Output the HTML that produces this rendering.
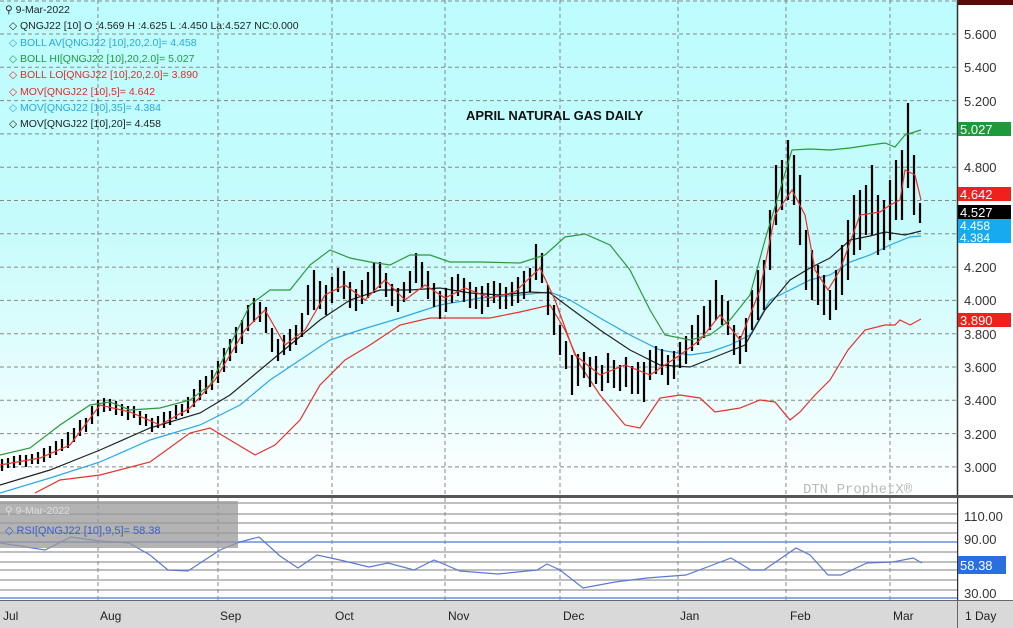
<!DOCTYPE html>
<html><head><meta charset="utf-8"><style>
html,body{margin:0;padding:0;width:1013px;height:628px;overflow:hidden;background:#fff}
svg{display:block}
</style></head><body>
<svg width="1013" height="628" xmlns="http://www.w3.org/2000/svg" font-family="Liberation Sans, sans-serif">
<defs><linearGradient id="bg" x1="0" y1="0" x2="0" y2="1">
<stop offset="0" stop-color="#bdfdff"/><stop offset="0.45" stop-color="#c6fbfb"/><stop offset="1" stop-color="#ffffff"/></linearGradient></defs>
<rect x="0" y="0" width="957" height="497" fill="url(#bg)"/>
<rect x="957" y="0" width="56" height="5" fill="#5a0a0a"/>
<g stroke="#888" stroke-dasharray="4,3" stroke-width="1">
<line x1="0" y1="1" x2="957" y2="1"/><line x1="0" y1="34" x2="957" y2="34"/><line x1="0" y1="67.3" x2="957" y2="67.3"/><line x1="0" y1="100.6" x2="957" y2="100.6"/><line x1="0" y1="133.9" x2="957" y2="133.9"/><line x1="0" y1="167.2" x2="957" y2="167.2"/><line x1="0" y1="200.5" x2="957" y2="200.5"/><line x1="0" y1="233.8" x2="957" y2="233.8"/><line x1="0" y1="267.1" x2="957" y2="267.1"/><line x1="0" y1="300.4" x2="957" y2="300.4"/><line x1="0" y1="333.7" x2="957" y2="333.7"/><line x1="0" y1="367" x2="957" y2="367"/><line x1="0" y1="400.3" x2="957" y2="400.3"/><line x1="0" y1="433.6" x2="957" y2="433.6"/><line x1="0" y1="466.9" x2="957" y2="466.9"/>
<line x1="98" y1="0" x2="98" y2="600"/><line x1="218" y1="0" x2="218" y2="600"/><line x1="332" y1="0" x2="332" y2="600"/><line x1="445" y1="0" x2="445" y2="600"/><line x1="560" y1="0" x2="560" y2="600"/><line x1="678" y1="0" x2="678" y2="600"/><line x1="786" y1="0" x2="786" y2="600"/><line x1="890" y1="0" x2="890" y2="600"/>
</g>
<g fill="none" stroke-width="1.2">
<polyline stroke="#e8302a" points="35,493 60,480 100,475 150,462 190,433 210,428 230,440 255,455 275,445 300,420 320,385 345,360 370,345 400,325 430,318 460,318 490,318 520,312 550,305 565,330 580,365 600,395 625,425 640,428 660,398 680,395 700,398 715,412 740,408 760,400 775,402 790,420 800,412 815,395 830,380 848,350 865,330 885,325 895,325 900,320 910,325 921,319"/>
<polyline stroke="#2aa8e6" points="0,493 50,478 100,462 150,440 200,425 240,405 270,380 300,360 330,340 360,330 400,318 440,305 480,298 520,295 550,292 570,300 600,318 630,335 660,350 690,355 710,352 730,345 750,335 770,300 790,290 810,280 830,275 850,262 870,255 890,245 910,237 921,236"/>
<polyline stroke="#222" points="0,485 50,470 100,450 150,428 200,413 230,395 260,370 290,345 320,320 350,300 380,290 410,290 440,288 470,293 500,295 530,292 550,293 570,308 600,330 630,350 660,365 690,367 720,355 745,345 765,310 790,280 810,268 830,258 850,240 870,236 885,232 905,235 921,231"/>
</g>
<path stroke="#000" stroke-width="2.2" fill="none" d="M2,459v12M8,458v10M14,456v12M20,455v10M26,455v12M32,454v10M38,452v12M44,448v14M50,446v12M56,441v14M62,439v12M68,432v16M74,428v14M80,420v16M86,418v14M92,406v18M98,400v16M104,398v14M110,399v12M116,401v14M122,404v12M128,406v14M134,406v12M140,411v14M146,414v12M152,418v14M158,416v12M164,412v16M170,411v14M176,405v14M182,404v12M188,397v16M194,389v18M200,380v20M206,376v18M212,370v20M218,361v22M224,348v24M230,339v22M236,327v26M242,320v24M248,305v26M254,298v24M260,302v20M266,307v26M272,328v24M278,339v22M284,335v20M290,329v22M296,325v20M302,313v24M308,285v30M314,270v40M320,281v28M326,285v30M332,277v26M338,268v24M344,271v28M350,282v26M356,289v22M362,280v24M368,272v26M374,263v30M380,262v26M386,273v24M392,284v22M398,288v24M404,282v20M410,271v22M416,253v30M422,262v26M428,271v28M434,283v24M440,291v28M446,288v24M452,277v26M458,274v22M464,278v24M470,282v26M476,287v22M482,286v28M488,283v24M494,281v22M500,283v26M506,287v22M512,282v24M518,277v26M524,271v28M530,268v24M536,244v36M542,253v30M548,285v30M554,305v30M560,325v30M566,341v28M572,355v40M578,354v32M584,352v26M590,357v30M596,356v28M602,365v26M608,353v30M614,360v28M620,365v26M626,357v30M632,366v28M638,362v32M644,362v40M650,350v30M656,346v28M662,349v26M668,355v30M674,351v28M680,342v26M686,336v28M692,325v26M698,315v30M704,306v32M710,300v30M716,280v40M722,295v30M728,301v34M734,325v30M740,336v28M746,318v34M752,290v40M758,270v50M764,260v50M770,210v60M776,165v60M782,160v50M788,140v60M794,155v50M800,175v70M806,230v60M812,250v50M818,265v40M824,275v40M830,290v30M836,270v40M842,245v50M848,220v60M854,195v60M860,190v60M866,185v50M872,165v70M878,195v60M884,200v50M890,180v60M896,160v60M902,150v70M908,103v85M914,155v60M920,203v20"/>
<g fill="none" stroke-width="1.2">
<polyline stroke="#2a9a3a" points="0,455 30,448 60,425 90,405 110,402 130,410 160,408 190,400 210,385 230,345 250,305 270,290 290,290 310,265 330,250 350,258 370,262 390,265 410,255 430,255 450,262 480,262 520,263 545,255 565,237 585,234 610,245 630,270 650,310 665,335 690,340 710,335 730,320 750,295 765,240 780,190 792,150 810,149 830,150 850,148 870,145 885,143 895,147 905,135 921,130"/>
<polyline stroke="#e8302a" points="0,465 40,458 70,445 100,405 130,412 160,425 190,408 215,380 245,330 265,310 285,345 305,330 325,295 345,285 365,300 385,280 405,300 425,285 445,298 465,288 490,298 515,292 540,268 555,300 575,355 600,375 625,365 650,375 680,355 700,340 720,315 740,340 760,290 775,215 792,190 805,215 815,270 828,290 840,270 860,215 880,212 890,205 900,200 905,170 915,175 921,200"/>
</g>
<text x="466" y="120" font-size="13" font-weight="bold" fill="#111">APRIL NATURAL GAS DAILY</text>
<text x="803" y="493" font-size="14" fill="#b8b8b8" font-family="Liberation Mono, monospace">DTN ProphetX®</text>
<g font-size="10.5">
<text x="5" y="13" fill="#222">⚲ 9-Mar-2022</text>
<text x="9" y="29" fill="#222">◇ QNGJ22 [10] O :4.569 H :4.625 L :4.450 La:4.527 NC:0.000</text>
<text x="9" y="46" fill="#29a8e0">◇ BOLL AV[QNGJ22 [10],20,2.0]= 4.458</text>
<text x="9" y="62" fill="#1f9a3a">◇ BOLL HI[QNGJ22 [10],20,2.0]= 5.027</text>
<text x="9" y="78" fill="#e02a2a">◇ BOLL LO[QNGJ22 [10],20,2.0]= 3.890</text>
<text x="9" y="95" fill="#e02a2a">◇ MOV[QNGJ22 [10],5]= 4.642</text>
<text x="9" y="111" fill="#29a8e0">◇ MOV[QNGJ22 [10],35]= 4.384</text>
<text x="9" y="127" fill="#222">◇ MOV[QNGJ22 [10],20]= 4.458</text>
</g>
<line x1="957.5" y1="0" x2="957.5" y2="600" stroke="#333" stroke-width="1.5"/>
<g font-size="13" fill="#333" stroke="none">
<text x="964" y="39">5.600</text><text x="964" y="72">5.400</text><text x="964" y="106">5.200</text><text x="964" y="172">4.800</text><text x="964" y="272">4.200</text><text x="964" y="305">4.000</text><text x="964" y="372">3.600</text><text x="964" y="405">3.400</text><text x="964" y="439">3.200</text><text x="964" y="472">3.000</text><text x="964" y="339">3.800</text>
</g>
<rect x="958" y="122" width="53" height="14" fill="#1e9a3a"/><text x="960" y="134" font-size="13" fill="#fff">5.027</text>
<rect x="958" y="187" width="53" height="14" fill="#f0201c"/><text x="960" y="199" font-size="13" fill="#fff">4.642</text>
<rect x="958" y="205" width="53" height="14" fill="#000"/><text x="960" y="217" font-size="13" fill="#fff">4.527</text>
<rect x="958" y="219" width="53" height="24" fill="#18aaee"/><text x="960" y="230" font-size="12" fill="#fff">4.458</text><text x="960" y="242" font-size="12" fill="#fff">4.384</text>
<rect x="958" y="313" width="53" height="14" fill="#f0201c"/><text x="960" y="325" font-size="13" fill="#fff">3.890</text>
<rect x="0" y="495" width="1013" height="3" fill="#555"/>
<rect x="0" y="498" width="957" height="102" fill="#fff"/>
<g stroke="#999" stroke-width="1.3">
<line x1="0" y1="503" x2="957" y2="503"/><line x1="0" y1="514" x2="957" y2="514"/><line x1="0" y1="523" x2="957" y2="523"/><line x1="0" y1="533" x2="957" y2="533"/><line x1="0" y1="552" x2="957" y2="552"/><line x1="0" y1="562" x2="957" y2="562"/><line x1="0" y1="570" x2="957" y2="570"/><line x1="0" y1="580" x2="957" y2="580"/><line x1="0" y1="590" x2="957" y2="590"/>
</g>
<line x1="0" y1="542" x2="957" y2="542" stroke="#8fa8e8" stroke-width="2"/>
<line x1="0" y1="598" x2="957" y2="598" stroke="#8fa8e8" stroke-width="2"/>
<g stroke="#888" stroke-dasharray="4,3">
<line x1="98" y1="498" x2="98" y2="600"/><line x1="218" y1="498" x2="218" y2="600"/><line x1="332" y1="498" x2="332" y2="600"/><line x1="445" y1="498" x2="445" y2="600"/><line x1="560" y1="498" x2="560" y2="600"/><line x1="678" y1="498" x2="678" y2="600"/><line x1="786" y1="498" x2="786" y2="600"/><line x1="890" y1="498" x2="890" y2="600"/>
</g>
<polyline fill="none" stroke="#5a78d8" stroke-width="1.2" points="0,543 20,546 45,550 71,537 100,541 129,543 150,555 168,570 188,571 220,550 240,542 259,537 280,556 298,568 317,555 340,560 369,567 388,563 414,570 434,560 460,571 498,574 537,570 547,564 560,570 583,588 615,582 647,578 686,575 710,566 731,558 751,570 764,570 796,548 810,555 828,575 841,575 867,563 893,562 913,558 922,563"/>
<rect x="0" y="501" width="238" height="47" fill="#9a9a9a" opacity="0.75"/>
<text x="5" y="514" font-size="10.5" fill="#ddd">⚲ 9-Mar-2022</text>
<text x="5" y="534" font-size="11" fill="#3a5ecf">◇ RSI[QNGJ22 [10],9,5]= 58.38</text>
<g font-size="13" fill="#333"><text x="964" y="521">110.00</text><text x="964" y="544">90.00</text><text x="964" y="565">70.00</text><text x="964" y="598">30.00</text></g>
<rect x="958" y="556" width="48" height="18" fill="#2a6ee0"/><text x="960" y="570" font-size="13" fill="#fff">58.38</text>
<rect x="0" y="600" width="1013" height="28" fill="#d9d9d9"/>
<line x1="0" y1="600.5" x2="1013" y2="600.5" stroke="#666"/>
<line x1="957.5" y1="600" x2="957.5" y2="628" stroke="#666"/>
<g font-size="12" fill="#222">
<text x="3" y="620">Jul</text><text x="100" y="620">Aug</text><text x="220" y="620">Sep</text><text x="335" y="620">Oct</text><text x="448" y="620">Nov</text><text x="563" y="620">Dec</text><text x="680" y="620">Jan</text><text x="790" y="620">Feb</text><text x="893" y="620">Mar</text><text x="965" y="620">1 Day</text>
</g>
</svg>
</body></html>
